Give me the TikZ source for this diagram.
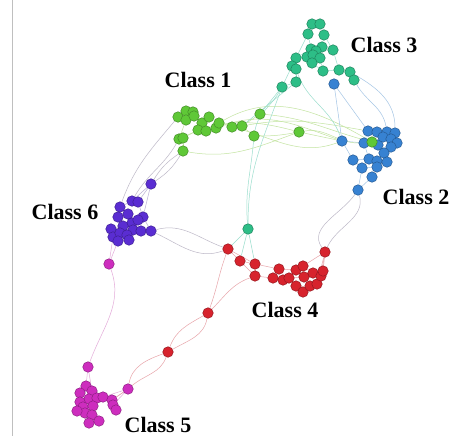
\documentclass[tikz,border=0pt]{standalone}
\usepackage{fontspec}
\setmainfont{Liberation Serif}
\pgfdeclarelayer{back}
\pgfdeclarelayer{bg}
\pgfsetlayers{back,bg,main}
\definecolor{cG}{RGB}{95,200,55}
\definecolor{cT}{RGB}{45,190,135}
\definecolor{cB}{RGB}{55,130,210}
\definecolor{cP}{RGB}{90,45,210}
\definecolor{cR}{RGB}{215,35,45}
\definecolor{cM}{RGB}{205,45,190}
\definecolor{eG}{RGB}{195,228,160}
\definecolor{eT}{RGB}{155,222,205}
\definecolor{eB}{RGB}{165,198,230}
\definecolor{eP}{RGB}{185,175,212}
\definecolor{eR}{RGB}{232,165,170}
\definecolor{eM}{RGB}{228,172,218}
\definecolor{eX}{RGB}{190,185,200}
\tikzset{
  vtx/.style={circle,minimum size=10.5pt,inner sep=0pt,line width=0.5pt,draw=#1!70!black,fill=#1},
  lbl/.style={font=\bfseries\fontsize{22}{24}\selectfont,inner sep=0pt},
  edg/.style={draw=#1,line width=0.5pt},
}
\begin{document}
\begin{tikzpicture}[x=1pt,y=-1pt]
\useasboundingbox (0,0) rectangle (454,436);
\begin{pgfonlayer}{back}
\fill[white] (0,0) rectangle (454,436);
\draw[black!25,line width=0.8pt] (12,0) -- (12,436);
\end{pgfonlayer}
% green
\foreach \n/\x/\y in {1/178/117,2/186/111,3/193/112,4/186/120,5/194/116,6/202/123,7/209/117,8/198/130,9/206/131,10/216/128,11/219/123,12/232/127,13/242/126,14/260/114,15/254/136,16/299/132,17/179/139,18/183/138,19/183/151}
  \node[vtx=cG] (g\n) at (\x,\y) {};
% teal
\foreach \n/\x/\y in {1/312/24,2/320/24,3/308/34,4/324/35,5/311/49,6/322/47,7/316/51,8/333/50,9/307/57,10/313/55,11/320/58,12/296/58,13/292/66,14/296/69,15/312/63,16/323/71,17/339/70,18/350/72,19/354/80,20/296/82,21/282/87,22/248/229}
  \node[vtx=cT] (t\n) at (\x,\y) {};
% blue
\foreach \n/\x/\y in {1/334/84,2/342/141,3/368/131,4/377/132,5/387/132,6/395/133,7/364/143,8/378/145,9/383/137,10/391/139,11/397/143,12/391/147,13/384/153,14/353/160,15/369/159,16/377/161,17/387/162,18/362/168,19/377/167,20/372/177,21/358/190}
  \node[vtx=cB] (b\n) at (\x,\y) {};
\node[vtx=cG] (g20) at (372,142) {};
% purple
\foreach \n/\x/\y in {1/151/184,2/132/201,3/138/202,4/120/207,5/128/214,6/118/217,7/143/217,8/132/223,9/138/220,10/123/226,11/111/229,12/133/230,13/141/231,14/151/231,15/113/237,16/120/233,17/127/235,18/118/241,19/129/240}
  \node[vtx=cP] (p\n) at (\x,\y) {};
% red
\foreach \n/\x/\y in {1/228/249,2/240/261,3/255/264,4/255/276,5/273/278,6/279/269,7/296/270,8/303/266,9/283/280,10/289/278,11/296/286,12/303/292,13/304/277,14/313/273,15/310/286,16/317/284,17/321/276,18/323/271,19/325/252,20/208/313,21/168/352}
  \node[vtx=cR] (r\n) at (\x,\y) {};
% magenta
\foreach \n/\x/\y in {1/109/264,2/88/367,3/128/389,4/86/386,5/92/391,6/80/393,7/89/399,8/97/398,9/103/397,10/112/400,11/113/405,12/116/410,13/80/402,14/83/407,15/93/406,16/85/413,17/92/415,18/89/423,19/99/421,20/77/411}
  \node[vtx=cM] (m\n) at (\x,\y) {};
% labels
\node[lbl] (L1) at (198,80) {Class 1};
\node[lbl] (L3) at (384,45) {Class 3};
\node[lbl] (L2) at (416,197) {Class 2};
\node[lbl] (L6) at (65,212) {Class 6};
\node[lbl] (L4) at (285,310) {Class 4};
\node[lbl] (L5) at (158,425) {Class 5};
\begin{pgfonlayer}{bg}
% intra-cluster
\foreach \a/\b in {1/2,2/3,1/4,4/5,3/5,5/6,6/7,6/8,8/9,9/10,10/11,7/11,11/12,12/13,13/14,13/15,17/18,18/19,4/17,8/18}
  \path[edg=eG] (g\a) -- (g\b);
\foreach \a/\b in {1/2,1/3,2/4,3/5,4/6,5/7,6/7,6/8,5/9,9/10,10/11,7/11,12/13,13/14,10/15,15/16,16/17,17/18,18/19,14/20,20/21,12/9,11/16,3/12,4/8,8/17,5/12,13/21}
  \path[edg=eT] (t\a) -- (t\b);
\foreach \a/\b in {3/4,4/5,5/6,3/7,7/8,8/9,9/10,10/11,11/12,12/13,13/17,8/13,14/15,15/16,16/17,14/18,18/19,19/20,20/21,18/21,2/7,2/14,15/19,1/3,7/15}
  \path[edg=eB] (b\a) -- (b\b);
\foreach \a/\b in {1/2,1/3,2/3,2/4,4/5,5/6,3/7,7/9,8/9,5/8,6/10,10/11,11/15,15/16,16/17,17/12,12/13,13/14,7/14,15/18,18/19,17/19,10/16,8/12,1/7}
  \path[edg=eP] (p\a) -- (p\b);
\foreach \a/\b in {1/2,2/3,1/3,2/4,3/4,4/5,5/6,3/6,6/7,7/8,5/9,9/10,10/11,11/12,12/15,10/13,13/14,14/17,17/18,15/16,16/17,8/14,18/19,17/19,16/19,7/13,8/19}
  \path[edg=eR] (r\a) -- (r\b);
\foreach \a/\b in {2/4,2/5,4/5,4/6,5/7,6/7,7/8,8/9,9/10,10/11,11/12,6/13,13/14,14/15,7/15,15/17,14/16,16/17,17/18,18/19,17/19,13/20,20/16,3/10,3/11,3/9}
  \path[edg=eM] (m\a) -- (m\b);
% Class 1 <-> Class 2
\path[edg=eG] (g10) to[out=20,in=160] (b2);
\path[edg=eG] (g12) to[out=-15,in=200] (b2);
\path[edg=eG] (g13) to[out=10,in=170] (b3);
\path[edg=eG] (g14) to[out=-5,in=165] (g20);
\path[edg=eG] (g15) to[out=0,in=190] (g16);
\path[edg=eG] (g19) to[out=-10,in=200] (g16);
\path[edg=eG] (g17) to[out=25,in=165] (g16);
\path[edg=eG] (g16) -- (b2);
\path[edg=eG] (g16) to[out=10,in=180] (b7);
\path[edg=eG] (g11) to[out=30,in=150] (g20);
% Class 1 <-> Class 3
\path[edg=eT] (g14) -- (t21);
\path[edg=eT] (g15) to[out=80,in=240] (t21);
\path[edg=eT] (g13) -- (t20);
\path[edg=eT] (t22) to[out=95,in=265] (g15);
\path[edg=eT] (t22) to[out=90,in=250] (t21);
% Class 3 <-> Class 2
\path[edg=eB] (t19) to[out=-60,in=100] (b5);
\path[edg=eB] (t18) to[out=-30,in=90] (b6);
\path[edg=eB] (b1) -- (b2);
\path[edg=eT] (t14) to[out=-70,in=110] (b2);
% Class 1 <-> Class 6
\path[edg=eX] (g19) to[bend left=12] (p1);
\path[edg=eX] (g19) to[bend right=12] (p1);
\path[edg=eX] (g17) to[out=240,in=60] (p2);
\path[edg=eX] (g1) to[out=230,in=70] (p4);
% Class 6 <-> Class 4
\path[edg=eX] (p14) to[out=15,in=160] (r1);
\path[edg=eX] (p14) to[out=-25,in=200] (r1);
% Class 4 <-> Class 3 node
\path[edg=eT] (t22) -- (r1);
\path[edg=eT] (t22) -- (r2);
\path[edg=eT] (t22) -- (r3);
% Class 4 <-> Class 2
\path[edg=eX] (r19) to[out=65,in=-75] (b21);
\path[edg=eX] (r19) to[out=125,in=-125] (b21);
% Class 6 <-> Class 5
\path[edg=eM] (p18) -- (m1);
\path[edg=eM] (p15) -- (m1);
\path[edg=eM] (m1) to[out=-70,in=70] (m2);
% Class 4 <-> Class 5
\path[edg=eR] (r1) to[out=-110,in=70] (r20);
\path[edg=eR] (r4) to[out=200,in=45] (r20);
\path[edg=eR] (r20) to[out=-100,in=30] (r21);
\path[edg=eR] (r20) to[out=-150,in=70] (r21);
\path[edg=eR] (r21) to[out=-110,in=40] (m3);
\path[edg=eR] (r21) to[out=-160,in=80] (m3);
\path[edg=eR] (m3) -- (m10);
\end{pgfonlayer}
\end{tikzpicture}
\end{document}
